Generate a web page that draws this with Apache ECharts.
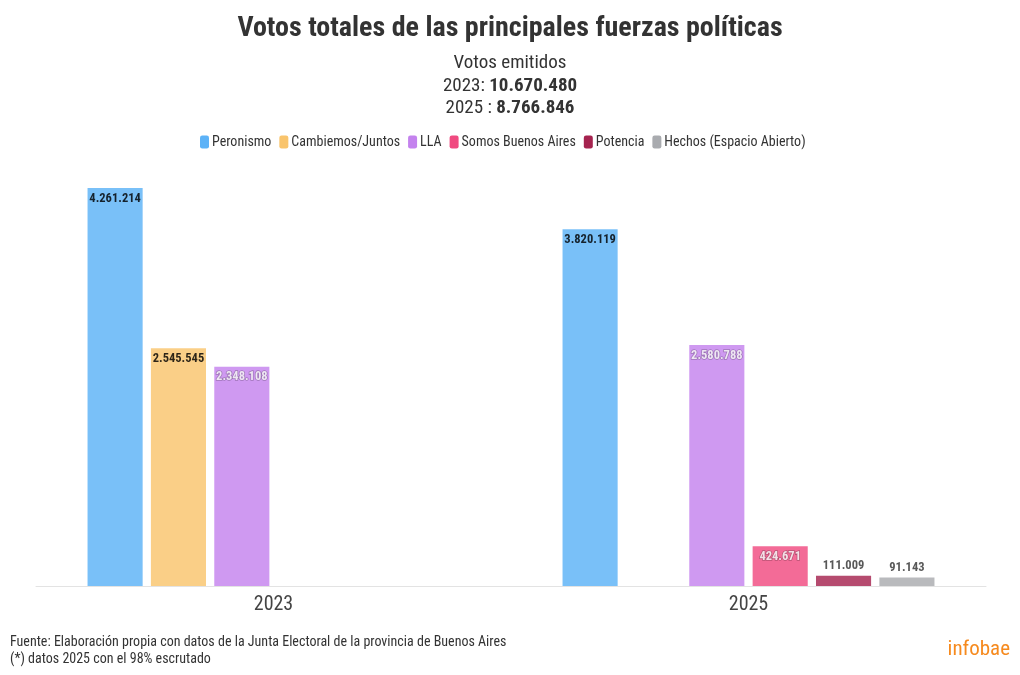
<!DOCTYPE html>
<html>
<head>
<meta charset="utf-8">
<script src="https://cdn.jsdelivr.net/npm/echarts@6/dist/echarts.min.js"></script>
<style>
  html, body { margin: 0; padding: 0; background: #fff; }
  #chart { width: 1020px; height: 675px; }
</style>
</head>
<body>
<div id="chart"></div>
<script>
// datos
const years = ['2023', '2025'];
const fuerzas = ['Peronismo', 'Cambiemos/Juntos', 'LLA', 'Somos Buenos Aires', 'Potencia', 'Hechos (Espacio Abierto)'];
const peronismo = [4261214, 3820119];
const cambiemos = [2545545, null];
const lla = [2348108, 2580788];
const somosBA = [null, 424671];
const potencia = [null, 111009];
const hechos = [null, 91143];
const totales = ['10.670.480', '8.766.846'];

const colores = ['#5cb2f7', '#f9c46c', '#c482ee', '#f04a80', '#a5234f', '#a9abaf'];
const FONT = '"Roboto Condensed", "Liberation Sans Narrow", "DejaVu Sans Condensed", Roboto, sans-serif';

function fmt(v) {
  return String(v).replace(/\B(?=(\d{3})+(?!\d))/g, '.');
}

// label dentro (arriba) o encima de la barra
function labelIn(color, shadow) {
  return {
    show: true,
    position: 'insideTop',
    distance: 4,
    fontFamily: FONT,
    fontWeight: 'bold',
    fontSize: 12.5,
    color: color,
    textBorderColor: shadow ? 'rgba(0,0,0,0.3)' : 'transparent',
    textBorderWidth: shadow ? 1.5 : 0,
    formatter: p => fmt(p.value)
  };
}
const labelTop = {
  show: true,
  position: 'top',
  distance: 3,
  fontFamily: FONT,
  fontWeight: 'bold',
  fontSize: 12.5,
  color: '#333',
  formatter: p => fmt(p.value)
};

const datos = [peronismo, cambiemos, lla, somosBA, potencia, hechos];
const labels = [labelIn('#000', false), labelIn('#000', false), labelIn('#fff', true), labelIn('#fff', true), labelTop, labelTop];

const series = fuerzas.map((name, i) => ({
  name: name,
  type: 'bar',
  data: datos[i],
  barGap: '15%',
  barCategoryGap: '21.7%',
  itemStyle: { color: colores[i], opacity: 0.82 },
  label: labels[i],
  emphasis: { disabled: true }
}));

const sub = {
  n: { fontFamily: FONT, fontSize: 19, fontWeight: 'normal', color: '#333' },
  b: { fontFamily: FONT, fontSize: 19, fontWeight: 'bold', color: '#333' }
};

const chart = echarts.init(document.getElementById('chart'));
chart.setOption({
  animation: false,
  title: [{
    text: 'Votos totales de las principales fuerzas políticas',
    left: 'center',
    top: 15,
    padding: 0,
    textStyle: { fontFamily: FONT, fontSize: 28, fontWeight: 'bold', color: '#333' }
  }, {
    text: '{n|Votos emitidos}',
    left: 'center', top: 54, padding: 0,
    textStyle: { fontWeight: 'normal', rich: sub }
  }, {
    text: '{n|2023: }{b|' + totales[0] + '}',
    left: 'center', top: 77, padding: 0,
    textStyle: { fontWeight: 'normal', rich: sub }
  }, {
    text: '{n|2025 : }{b|' + totales[1] + '}',
    left: 'center', top: 99, padding: 0,
    textStyle: { fontWeight: 'normal', rich: sub }
  }, {
    text: 'Fuente: Elaboración propia con datos de la Junta Electoral de la provincia de Buenos Aires\n(*) datos 2025 con el 98% escrutado',
    left: 10,
    top: 634,
    padding: 0,
    textStyle: { fontFamily: FONT, fontSize: 14, fontWeight: 'normal', color: '#333', lineHeight: 17 }
  }, {
    text: 'infobae',
    right: 10,
    top: 639,
    padding: 0,
    textStyle: { fontFamily: FONT, fontSize: 21, fontWeight: 'normal', color: '#f68a1e' }
  }],
  legend: {
    top: 130,
    left: 195,
    icon: 'roundRect',
    itemWidth: 9,
    itemHeight: 13,
    itemGap: 8,
    itemStyle: { opacity: 1 },
    textStyle: { fontFamily: FONT, fontSize: 14, color: '#333', padding: [0, 0, 0, -2] },
    data: fuerzas
  },
  grid: { left: 36, right: 34, top: 119, bottom: 89 },
  xAxis: {
    type: 'category',
    data: years,
    axisTick: { show: false },
    axisLine: { lineStyle: { color: '#e3e3e3', width: 1 } },
    axisLabel: { fontFamily: FONT, fontSize: 20, color: '#444', margin: 9 }
  },
  yAxis: {
    type: 'value',
    min: 0,
    max: 5000000,
    show: false,
    splitLine: { show: false }
  },
  series: series
});
</script>
</body>
</html>
